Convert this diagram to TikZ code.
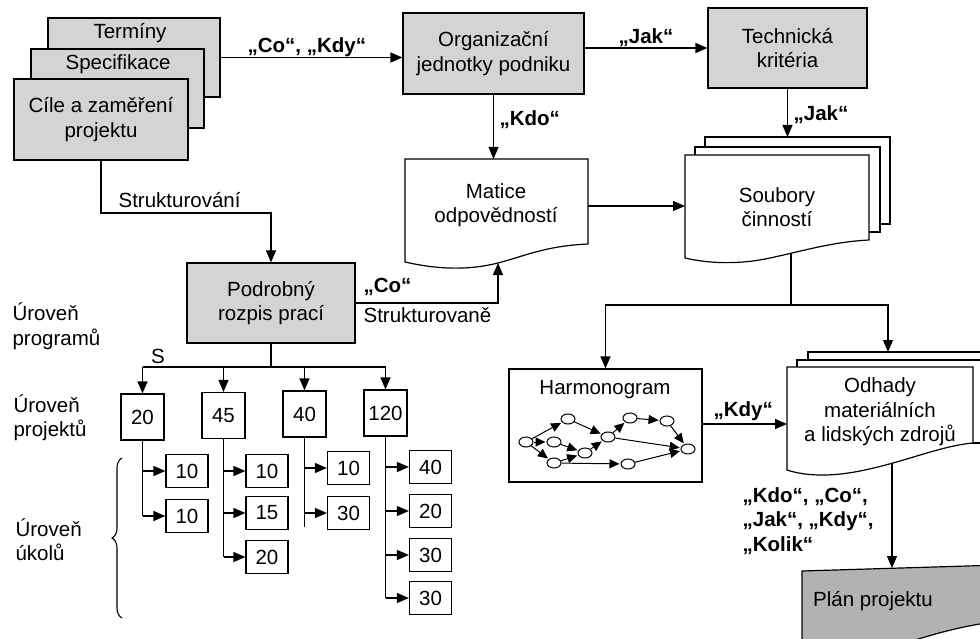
\documentclass[tikz,border=0pt]{standalone}
\usepackage{fontspec}
\setmainfont{Liberation Sans}
\usetikzlibrary{arrows.meta,decorations.pathreplacing,shapes.geometric}
\definecolor{boxgray}{gray}{0.83}
\definecolor{plangray}{gray}{0.70}

\begin{document}
\begin{tikzpicture}[x=1pt,y=-1pt,
  font=\fontsize{20.5}{24.5}\selectfont,
  line width=1.2pt,
  arr/.style={-{Triangle[length=12pt,width=10pt]}},
  narr/.style={-{Triangle[length=10pt,width=9pt]}, line width=1pt, shorten >=1pt},
  graybox/.style={draw, fill=boxgray, inner sep=0pt, align=center},
  whitebox/.style={draw, fill=white, inner sep=0pt, align=center},
  txt/.style={inner sep=0pt, align=center},
  lbl/.style={inner sep=0pt, font=\fontsize{20.5}{24.5}\selectfont\bfseries},
  numbox/.style={whitebox, minimum width=43pt, minimum height=46pt},
  subbox/.style={whitebox, minimum width=42pt, minimum height=33pt},
  hn/.style={ellipse, draw, fill=white, minimum width=14pt, minimum height=10pt, inner sep=0pt, line width=1pt}
]
\clip (0,0) rectangle (980,639);

% ---- input documents (stacked) ----
\node[graybox, minimum width=172pt, minimum height=79pt] (terminy) at (134,57.5) {};
\node[txt] (terminyT) at (130,33) {Termíny};
\node[graybox, minimum width=173pt, minimum height=79pt] (spec) at (117.5,88.5) {};
\node[txt] (specT) at (118,64) {Specifikace};
\node[graybox, minimum width=174pt, minimum height=81pt] (cile) at (101,119.5) {Cíle a zaměření\\projektu};

% ---- organisation and technical criteria ----
\node[graybox, minimum width=181pt, minimum height=81pt] (org) at (493.5,53.5) {Organizační\\jednotky podniku};
\node[graybox, minimum width=159pt, minimum height=80pt] (tech) at (787.5,48) {Technická\\kritéria};

\draw[arr] (terminy.east) -- (terminy.east -| org.west);
\node[lbl, anchor=base west] (lCoKdy) at (247,53) {„Co“, „Kdy“};
\draw[arr] (org.east |- tech.west) -- (tech.west);
\node[lbl, anchor=base west] (lJak1) at (618,44) {„Jak“};

% ---- responsibility matrix ----
\draw[fill=white] (405,159) -- (588,159) -- (588,244)
  .. controls (545,246) and (525,256) .. (498,263)
  .. controls (470,270) and (440,270) .. (405,262) -- cycle;
\node[txt] (matice) at (496,205) {Matice\\odpovědností};
\coordinate (maticeTop) at (496,159);
\coordinate (maticeIn) at (498,263);
\coordinate (maticeOut) at (588,206);

\draw[arr] (org.south) -- (org.south |- maticeTop);
\node[lbl, anchor=base west] (lKdo) at (499,126) {„Kdo“};

% ---- activity sets (stacked documents) ----
\draw[fill=white] (705,137) rectangle (890,224);
\draw[fill=white] (695,147) rectangle (880,232);
\draw[fill=white] (685,155) -- (869,155) -- (869,240)
  .. controls (830,242) and (800,252) .. (765,259)
  .. controls (740,264) and (710,264) .. (685,258) -- cycle;
\node[txt] (soub) at (777,207) {Soubory\\činností};
\coordinate (soubTop) at (788,137);
\coordinate (soubIn) at (685,206);
\coordinate (soubOut) at (791,254);
\coordinate (bus2) at (791,305);

\draw[arr] (tech.south) -- (tech.south |- soubTop);
\node[lbl, anchor=base west] (lJak2) at (793,121) {„Jak“};
\draw[arr] (maticeOut) -- (soubIn);

% ---- schedule ----
\node[whitebox, minimum width=193pt, minimum height=113pt] (harm) at (605.5,425.5) {};
\node[txt] (harmT) at (605,390) {Harmonogram};
\node[hn] (h1) at (526,442) {};
\node[hn] (h2) at (568,419) {};
\node[hn] (h3) at (554,442) {};
\node[hn] (h4) at (585,453) {};
\node[hn] (h5) at (554,463) {};
\node[hn] (h6) at (608,437) {};
\node[hn] (h7) at (630,418) {};
\node[hn] (h8) at (667,421) {};
\node[hn] (h9) at (688,449) {};
\node[hn] (h10) at (628,464) {};
\foreach \a/\b in {h1/h2,h1/h3,h1/h5,h3/h4,h5/h4,h4/h6,h2/h6,h6/h7,h7/h8,h8/h9,h6/h9,h5/h10,h10/h9}
  \draw[narr] (\a) -- (\b);

% ---- resource estimates (stacked documents) ----
\draw[fill=white] (808,352) rectangle (1010,435);
\draw[fill=white] (797,360) rectangle (1000,443);
\draw[fill=white] (787,367) -- (973,367) -- (973,443)
  .. controls (940,446) and (905,462) .. (860,471)
  .. controls (830,477) and (805,476) .. (787,470) -- cycle;
\node[txt] (odh) at (880,412) {Odhady\\materiálních\\a lidských zdrojů};
\coordinate (odhTop) at (888,352);
\coordinate (odhIn) at (787,424);
\coordinate (odhOut) at (892,463);

\draw (soubOut) -- (bus2);
\draw[arr] (bus2) -| (harm.north);
\draw[arr] (bus2) -| (odhTop);
\draw[arr] (harm.east |- odhIn) -- (odhIn);
\node[lbl, anchor=base west] (lKdy) at (713,416) {„Kdy“};

% ---- project plan ----
\draw[fill=plangray] (802,571) -- (1000,565) -- (1000,621)
  .. controls (960,626) and (930,635) .. (900,645) -- (802,660) -- cycle;
\node[txt] (plan) at (873,601) {Plán projektu};
\coordinate (planTop) at (892,568);
\draw[arr] (odhOut) -- (planTop);
\node[lbl, anchor=north west, align=left] (lAll) at (742,487) {„Kdo“, „Co“,\\„Jak“, „Kdy“,\\„Kolik“};

% ---- work breakdown ----
\node[graybox, minimum width=168pt, minimum height=80pt] (podr) at (271,303) {Podrobný\\rozpis prací};
\coordinate (sbend) at (103,213);
\draw[arr] (cile.south) |- (sbend -| podr.north) -- (podr.north);
\node[anchor=base west, inner sep=0pt] (lStrukt) at (118,208) {Strukturování};
\draw[arr] (podr.east) -| (maticeIn);
\node[lbl, anchor=base west] (lCo) at (363,292) {„Co“};
\node[anchor=base west, inner sep=0pt] (lStrukt2) at (363,322) {Strukturovaně};

% level captions
\node[txt, anchor=west, align=left] (lvProg) at (12,326) {Úroveň\\programů};
\node[txt, anchor=west, align=left] (lvProj) at (13,417.5) {Úroveň\\projektů};
\node[txt, anchor=west, align=left] (lvUkol) at (15,539.5) {Úroveň\\úkolů};
\draw[decorate, decoration={brace, amplitude=10pt}, line width=1.1pt] (122,618) -- (122,458);
\node[txt] (lS) at (158,356) {S};

% project boxes
\node[numbox] (p20) at (142.5,417) {20};
\node[numbox] (p45) at (223.5,415.5) {45};
\node[numbox] (p40) at (304.5,414) {40};
\node[numbox] (p120) at (385.5,413) {120};
\coordinate (bus1) at (273,367);
\draw (podr.south) -- (podr.south |- bus1);
\draw (p20.north |- bus1) -- (p120.north |- bus1);
\foreach \p in {p20,p45,p40,p120}
  \draw[arr] (\p.north |- bus1) -- (\p.north);

% task boxes
\node[subbox] (c20a) at (187,471) {10};
\node[subbox] (c20b) at (187,516) {10};
\node[subbox] (c45a) at (267,471) {10};
\node[subbox] (c45b) at (267,513) {15};
\node[subbox] (c45c) at (267,557) {20};
\node[subbox] (c40a) at (348.5,468) {10};
\node[subbox] (c40b) at (348.5,513) {30};
\node[subbox] (c120a) at (430.5,467) {40};
\node[subbox] (c120b) at (430.5,511) {20};
\node[subbox] (c120c) at (430.5,555) {30};
\node[subbox] (c120d) at (430.5,598) {30};
\coordinate (t40end) at (304.5,527);

\draw (p20.south) -- (p20.south |- c20b.west);
\draw (p45.south) -- (p45.south |- c45c.west);
\draw (p40.south) -- (p40.south |- t40end);
\draw (p120.south) -- (p120.south |- c120d.west);
\foreach \p/\c in {p20/c20a,p20/c20b,p45/c45a,p45/c45b,p45/c45c,p40/c40a,p40/c40b,p120/c120a,p120/c120b,p120/c120c,p120/c120d}
  \draw[arr] (\p.south |- \c.west) -- (\c.west);
\end{tikzpicture}
\end{document}
